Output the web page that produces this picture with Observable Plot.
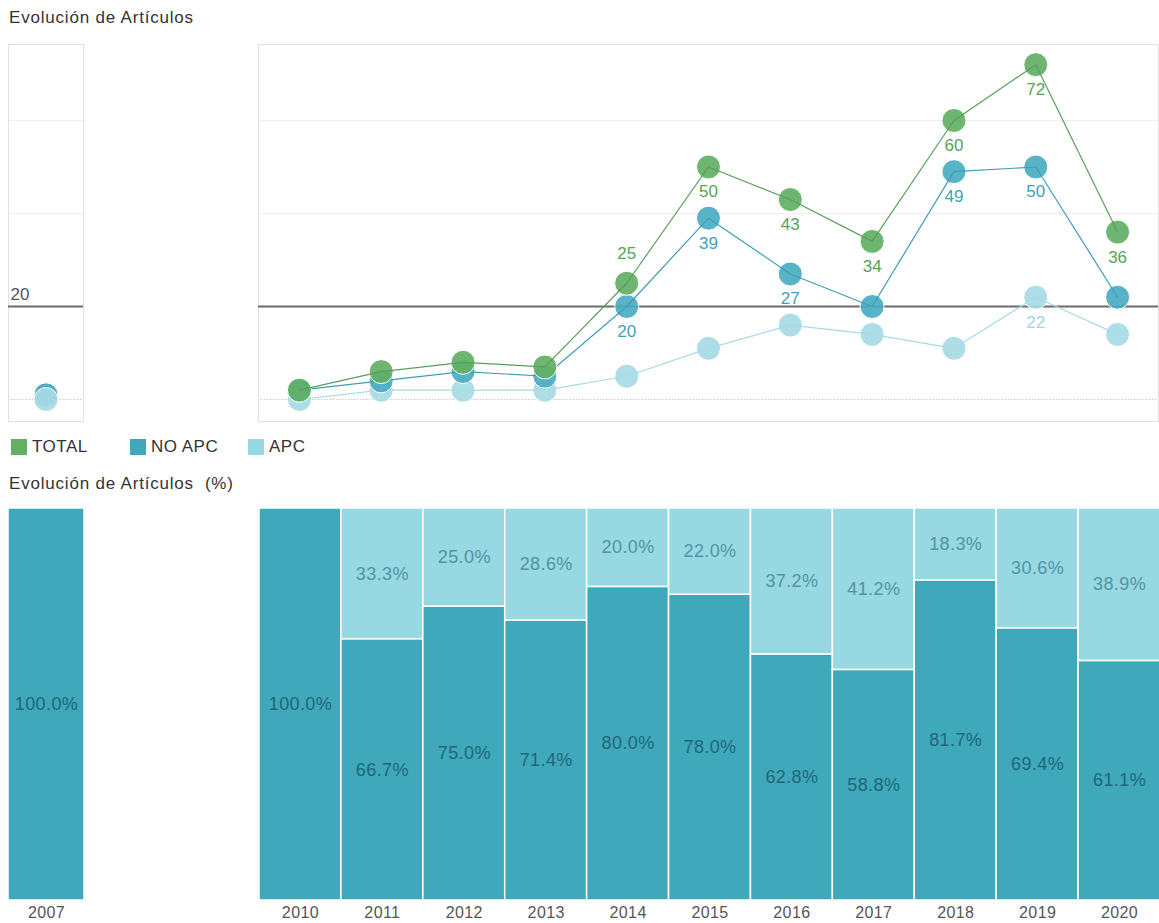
<!DOCTYPE html>
<html>
<head>
<meta charset="utf-8">
<script src="https://cdn.jsdelivr.net/npm/d3@7"></script>
<script src="https://cdn.jsdelivr.net/npm/@observablehq/plot@0.6"></script>
<style>
  html, body { margin: 0; padding: 0; background: #fff; }
  body { font-family: "Liberation Sans", Arial, sans-serif; }
  #wrap { position: relative; width: 1159px; height: 923px; overflow: hidden; }
  .abs { position: absolute; }
  .title { font-size: 17px; color: #333; white-space: pre; letter-spacing: 0.8px; }
  .leg { font-size: 17px; color: #333; display: flex; align-items: center; letter-spacing: 0.5px; }
  .sw { width: 16px; height: 16px; display: inline-block; margin-right: 5px; }
  svg { overflow: visible; }
</style>
</head>
<body>
<div id="wrap"></div>
<script>
// ---------- data ----------
const years = ["2007", "2010", "2011", "2012", "2013", "2014", "2015", "2016", "2017", "2018", "2019", "2020"];
const totalArt = [1, 2, 6, 8, 7, 25, 50, 43, 34, 60, 72, 36];
const noApcArt = [1, 2, 4, 6, 5, 20, 39, 27, 20, 49, 50, 22];
const apcArt   = [0, 0, 2, 2, 2, 5, 11, 16, 14, 11, 22, 14];
const series = ["TOTAL", "NO APC", "APC"];
const refValue = 20;
// labels shown on the line chart (Tableau collision handling)
const totalLabelYears = ["2014", "2015", "2016", "2017", "2018", "2019", "2020"];
const noApcLabelYears = ["2014", "2015", "2016", "2018", "2019"];
const apcLabelYears = ["2019"];
const labelsAbove = ["TOTAL|2014"];

// ---------- styles ----------
const dotColor = {"TOTAL": "#62af65", "NO APC": "#4aadc3", "APC": "#a6dbe6"};
const lineColor = {"TOTAL": "#5a9f5c", "NO APC": "#3d9fb6", "APC": "#a6dbe6"};
const textColor = {"TOTAL": "#55a358", "NO APC": "#3fa2b9", "APC": "#9fd4df"};
const barColor = {"NO APC": "#3fa8bb", "APC": "#98d8e2"};
const barText = {"NO APC": "#1f6778", "APC": "#4f95a5"};
const FONT = "Liberation Sans, Arial, sans-serif";

const rows = [];
years.forEach((y, i) => {
  rows.push({year: y, serie: "TOTAL", value: totalArt[i]});
  rows.push({year: y, serie: "NO APC", value: noApcArt[i]});
  rows.push({year: y, serie: "APC", value: apcArt[i]});
});
const labelYears = {"TOTAL": totalLabelYears, "NO APC": noApcLabelYears, "APC": apcLabelYears};
const labelRows = rows.filter(d => labelYears[d.serie].includes(d.year));

const wrap = document.getElementById("wrap");
function place(el, left, top) {
  el.classList.add("abs");
  el.style.left = left + "px";
  el.style.top = top + "px";
  wrap.appendChild(el);
}
function addText(txt, cls, left, top) {
  const d = document.createElement("div");
  d.className = cls;
  d.textContent = txt;
  place(d, left, top);
  return d;
}

// ---------- titles ----------
addText("Evolución de Artículos", "title", 9, 8);
addText("Evolución de Artículos  (%)", "title", 9, 474);

// ---------- legend ----------
const legPos = [11, 130, 248];
series.forEach((s, i) => {
  const d = document.createElement("div");
  d.className = "leg";
  const sw = document.createElement("span");
  sw.className = "sw";
  sw.style.background = i === 0 ? dotColor[s] : barColor[s];
  d.appendChild(sw);
  d.appendChild(document.createTextNode(s));
  place(d, legPos[i], 437);
});

// ---------- line panels ----------
const yDomain = [-4.73, 76.34];
function linePanel(panelYears, width, order, showRefLabel) {
  const data = rows.filter(d => panelYears.includes(d.year));
  const lab = labelRows.filter(d => panelYears.includes(d.year));
  const marks = [
    Plot.ruleY([40, 60], {stroke: "#efefef", strokeWidth: 1}),
    Plot.ruleY([0], {stroke: "#cfc6c6", strokeDasharray: "1.5,1.5", strokeWidth: 1}),
    Plot.frame({stroke: "#e2e2e2"}),
    Plot.ruleY([refValue], {stroke: "#6b6b6b", strokeWidth: 2})
  ];
  if (showRefLabel) {
    marks.push(Plot.text([refValue], {y: d => d, frameAnchor: "left", dx: 2, dy: -12, text: d => String(d),
      fill: "#555", fontSize: 17, textAnchor: "start"}));
  }
  for (const s of order) {
    const sd = data.filter(d => d.serie === s);
    marks.push(Plot.dot(sd, {x: "year", y: "value", r: 12, fill: dotColor[s], fillOpacity: 0.92, stroke: "white", strokeWidth: 1}));
    marks.push(Plot.line(sd, {x: "year", y: "value", stroke: lineColor[s], strokeWidth: 1.2}));
  }
  for (const s of series) {
    const sl = lab.filter(d => d.serie === s);
    marks.push(Plot.text(sl.filter(d => !labelsAbove.includes(d.serie + "|" + d.year)),
      {x: "year", y: "value", text: d => String(d.value), dy: 25, fill: textColor[s], fontSize: 17}));
    marks.push(Plot.text(sl.filter(d => labelsAbove.includes(d.serie + "|" + d.year)),
      {x: "year", y: "value", text: d => String(d.value), dy: -30, fill: textColor[s], fontSize: 17}));
  }
  return Plot.plot({
    width, height: 377,
    margin: 0,
    style: {fontFamily: FONT, background: "transparent", overflow: "visible"},
    x: {type: "band", domain: panelYears, padding: 0, round: false, axis: null},
    y: {domain: yDomain, axis: null},
    marks
  });
}

// ---------- percentage bar panels ----------
const barRows = rows.filter(d => d.serie !== "TOTAL").map(d => {
  const tot = totalArt[years.indexOf(d.year)];
  return {...d, pct: (d.value / tot * 100).toFixed(1) + "%"};
});
function barPanel(panelYears, width) {
  const data = barRows.filter(d => panelYears.includes(d.year));
  const stackOpts = {x: "year", y: "value", offset: "normalize", order: ["NO APC", "APC"], z: "serie"};
  return Plot.plot({
    width, height: 415,
    marginTop: 0, marginBottom: 23, marginLeft: 0, marginRight: 0,
    style: {fontFamily: FONT, background: "transparent", fontSize: "16px", color: "#555", letterSpacing: "0.4px"},
    x: {type: "band", domain: panelYears, padding: 0, round: false, tickSize: 0, tickPadding: 6, label: null},
    y: {domain: [0, 1], axis: null},
    marks: [
      Plot.barY(data, Plot.stackY({...stackOpts, fill: d => barColor[d.serie], stroke: "white", strokeWidth: 1.5})),
      Plot.text(data.filter(d => d.value > 0), Plot.stackY({...stackOpts, text: "pct",
        fill: d => barText[d.serie], fontSize: 18}))
    ]
  });
}

place(linePanel(["2007"], 75, ["TOTAL", "NO APC", "APC"], true), 8, 44);
place(linePanel(years.slice(1), 900, ["APC", "NO APC", "TOTAL"], false), 258, 44);
place(barPanel(["2007"], 76), 7.5, 508);
place(barPanel(years.slice(1), 901), 259, 508);
</script>
</body>
</html>
